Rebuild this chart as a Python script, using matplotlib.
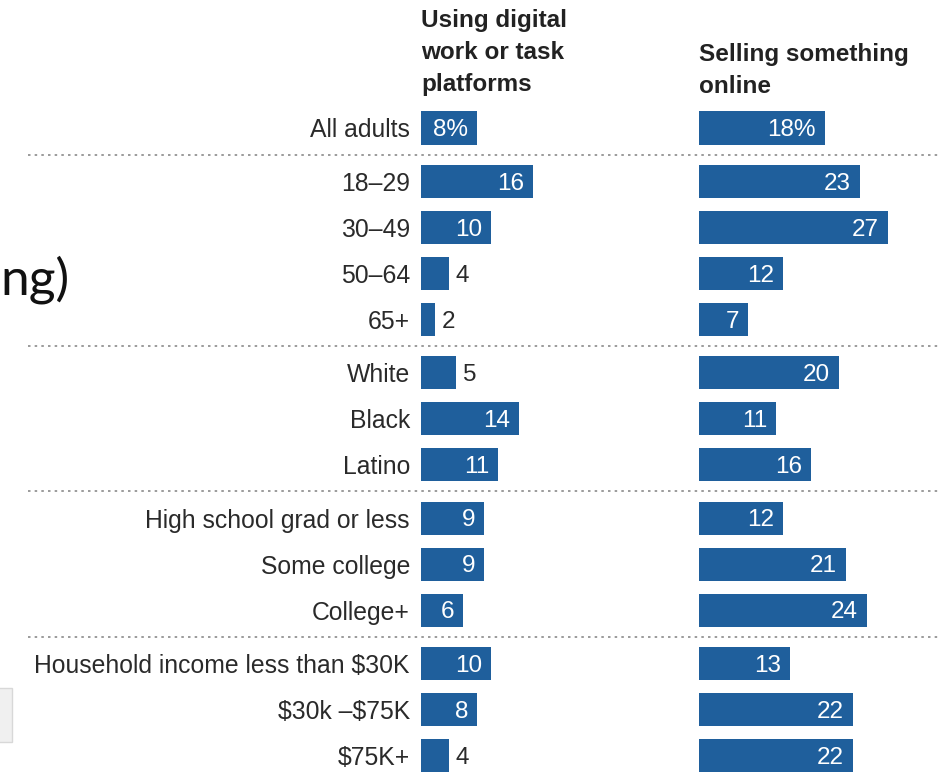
import matplotlib.pyplot as plt
from matplotlib.patches import Rectangle

plt.rcParams['font.family'] = ['Liberation Sans', 'DejaVu Sans']

categories = ['All adults', '18\u201329', '30\u201349', '50\u201364', '65+',
              'White', 'Black', 'Latino',
              'High school grad or less', 'Some college', 'College+',
              'Household income less than \\$30K', '\\$30k \u2013\\$75K', '\\$75K+']
groups = [0, 1, 1, 1, 1, 2, 2, 2, 3, 3, 3, 4, 4, 4]
platforms = [8, 16, 10, 4, 2, 5, 14, 11, 9, 9, 6, 10, 8, 4]
selling = [18, 23, 27, 12, 7, 20, 11, 16, 12, 21, 24, 13, 22, 22]
headers = ['Using digital\nwork or task\nplatforms', 'Selling something\nonline']

blue = '#1f5f9c'
W, H = 940, 772
px_unit = 7.0      # pixels per percentage point
row_px = 46.0      # pixels per row
top_px = 128.0     # centre of first row from top

ypos = [i + 0.16 * g for i, g in enumerate(groups)]

fig = plt.figure(figsize=(W / 100, H / 100), dpi=100)

# background axes for separators
bg = fig.add_axes([0, 0, 1, 1])
bg.set_xlim(0, W)
bg.set_ylim((H - top_px) / row_px, -top_px / row_px)
bg.axis('off')
for k in range(1, len(groups)):
    if groups[k] != groups[k - 1]:
        sep = (ypos[k] + ypos[k - 1]) / 2
        bg.plot([28, W], [sep, sep], color='#8a8a8a', lw=1.2, ls=(0, (1.5, 2.5)))

# cropped slide text and grey box at left
bg.text(0, (280 - top_px) / row_px, 'ng)', fontsize=37, family='Lato',
        ha='left', va='center', color='#111111')
bg.add_patch(Rectangle((-2, (688 - top_px) / row_px), 14, 54 / row_px,
                       facecolor='#f0f0f0', edgecolor='#d8d8d8', lw=1))

panels = [(421, 690, platforms), (699, W, selling)]
for n, (x0, x1, vals) in enumerate(panels):
    ax = fig.add_axes([x0 / W, 0, (x1 - x0) / W, 1])
    ax.set_xlim(0, (x1 - x0) / px_unit)
    ax.set_ylim((H - top_px) / row_px, -top_px / row_px)
    ax.barh(ypos, vals, height=0.72, color=blue)
    for sp in ax.spines.values():
        sp.set_visible(False)
    ax.set_xticks([])
    if n == 0:
        ax.set_yticks(ypos)
        ax.set_yticklabels(categories, fontsize=17.8, color='#2a2a2a')
        ax.tick_params(axis='y', length=0, pad=8)
    else:
        ax.set_yticks([])
    for i, (y, v) in enumerate(zip(ypos, vals)):
        txt = f'{v}%' if i == 0 else f'{v}'
        if v >= 6:
            ax.text(v - 1.3, y + 0.05, txt, ha='right', va='center', color='white', fontsize=17.5)
        else:
            ax.text(v + 1.0, y + 0.05, txt, ha='left', va='center', color='#2a2a2a', fontsize=17.5)
    ax.patch.set_alpha(0)

fig.text(421 / W, 1 - 9 / H, headers[0], ha='left', va='top', fontsize=17.5,
         fontweight='bold', color='#222222', linespacing=1.5)
fig.text(699 / W, 1 - 43 / H, headers[1], ha='left', va='top', fontsize=17.5,
         fontweight='bold', color='#222222', linespacing=1.5)

fig.savefig('out.png', dpi=100)
